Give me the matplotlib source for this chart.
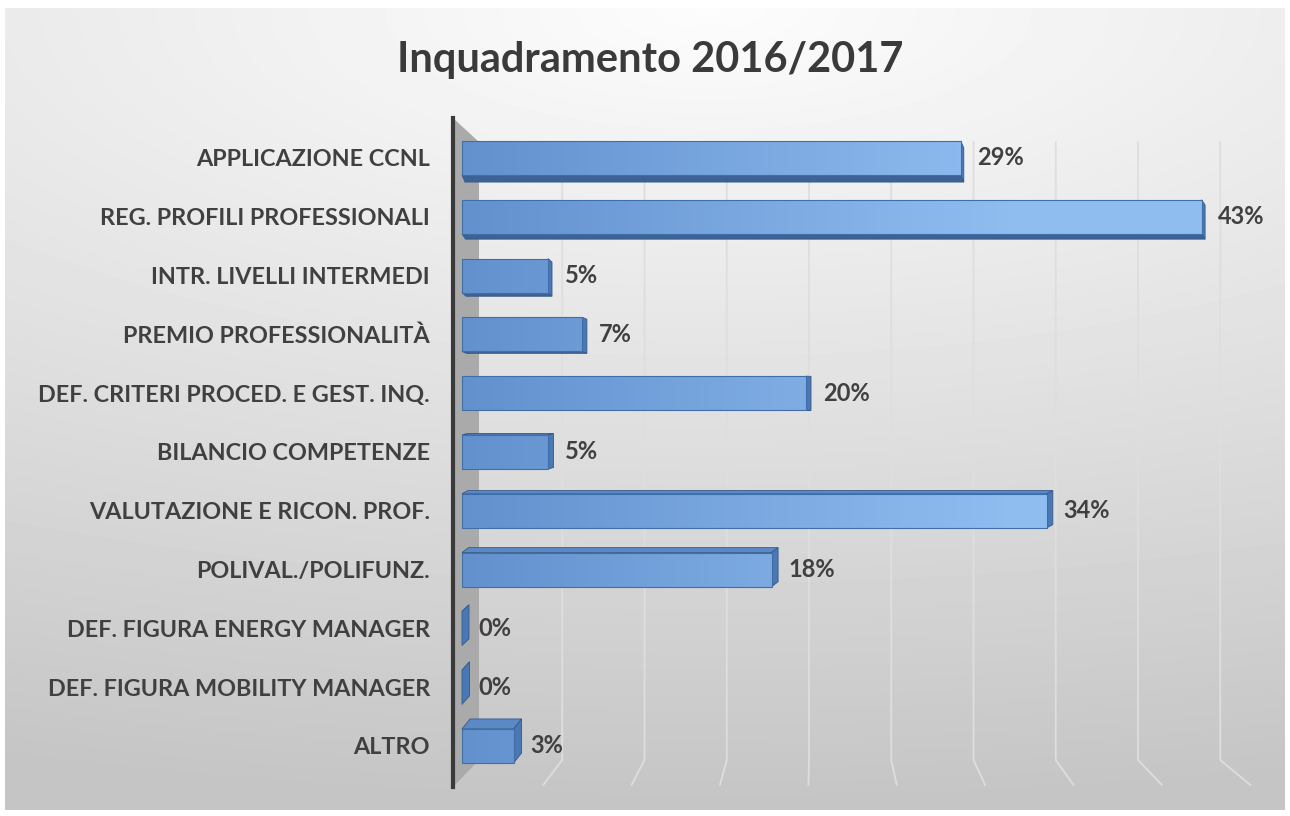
import numpy as np
import matplotlib.pyplot as plt
from matplotlib.colors import LinearSegmentedColormap
from matplotlib.patches import Polygon

plt.rcParams['font.family'] = ['Lato', 'DejaVu Sans']

categorie = ["APPLICAZIONE CCNL", "REG. PROFILI PROFESSIONALI", "INTR. LIVELLI INTERMEDI",
             "PREMIO PROFESSIONALITÀ", "DEF. CRITERI PROCED. E GEST. INQ.", "BILANCIO COMPETENZE",
             "VALUTAZIONE E RICON. PROF.", "POLIVAL./POLIFUNZ.", "DEF. FIGURA ENERGY MANAGER",
             "DEF. FIGURA MOBILITY MANAGER", "ALTRO"]
percentuali = [29, 43, 5, 7, 20, 5, 34, 18, 0, 0, 3]
griglia = [5, 10, 15, 20, 25, 30, 35, 40, 45]
titolo = "Inquadramento 2016/2017"

W, H_FIG = 1290, 816
PX = 17.2       # pixel per punto percentuale (piano frontale)
PX_BACK = 16.45 # pixel per punto percentuale (parete di fondo)
PX_FLOOR = 17.67
ROW = 58.8      # pixel tra una barra e l'altra
H = 0.58        # spessore barra

fig = plt.figure(figsize=(W / 100, H_FIG / 100), dpi=100)
fig.patch.set_facecolor('white')

# sfondo sfumato
bg = fig.add_axes([5 / W, 6 / H_FIG, 1280 / W, 802 / H_FIG])
u, v = np.meshgrid(np.linspace(0, 1, 300), np.linspace(0, 1, 200))
r = np.clip(np.sqrt(0.35 * (u - 0.55) ** 2 + v ** 2), 0, 1)
bg.imshow(0.99 - 0.22 * r, cmap='gray', vmin=0, vmax=1, aspect='auto',
          extent=[0, 1, 0, 1], interpolation='bilinear')
bg.axis('off')

# asse principale (pixel: sx 453, dx 1258, alto 118, basso 787)
ax = fig.add_axes([453 / W, (H_FIG - 787) / H_FIG, (1258 - 453) / W, (787 - 118) / H_FIG])
ax.patch.set_alpha(0)
x_min, x_max = -(462 - 453) / PX, (1258 - 462) / PX
y_top, y_bot = -(158 - 118) / ROW, 10 + (787 - 746) / ROW

# parete sinistra grigia
back_x = (479 - 462) / PX
back_top, back_bot = (142 - 158) / ROW, (760 - 158) / ROW
ax.add_patch(Polygon([(x_min, y_top), (back_x, back_top), (back_x, back_bot), (x_min, y_bot)],
                     closed=True, facecolor='#aaaaaa', edgecolor='none', zorder=1))

# griglia sulla parete di fondo, con il tratto sul pavimento
for g in griglia:
    xb = (480 - 462 + g * PX_BACK) / PX
    xf = (455 - 462 + g * PX_FLOOR) / PX
    ax.plot([xb, xb, xf], [back_top, back_bot, 10.66], color='#dedede', lw=1.3, zorder=1)

ypos = np.arange(len(categorie))
bars = ax.barh(ypos, percentuali, height=H, color='#7aa7df', edgecolor='#3f6ea8',
               linewidth=0.8, zorder=5)

cmap = LinearSegmentedColormap.from_list('blu', ['#6391ce', '#90bdf0'])
for i, (bar, val) in enumerate(zip(bars, percentuali)):
    dxp = 3 + 0.5 * i
    dyp = -7 + 1.7 * i
    ddx, ddy = dxp / PX, -dyp / ROW
    yt, yb = i - H / 2, i + H / 2
    if dyp < 0:
        ax.add_patch(Polygon([(0, yb), (val, yb), (val + ddx, yb + ddy), (ddx, yb + ddy)],
                             facecolor='#3d6396', edgecolor='#34598a', lw=0.6, zorder=3.5))
    else:
        ax.add_patch(Polygon([(0, yt), (val, yt), (val + ddx, yt + ddy), (ddx, yt + ddy)],
                             facecolor='#5b89c6', edgecolor='#34598a', lw=0.6, zorder=3.5))
    ax.add_patch(Polygon([(val, yt), (val, yb), (val + ddx, yb + ddy), (val + ddx, yt + ddy)],
                         facecolor='#4a78b4', edgecolor='#34598a', lw=0.6, zorder=3.6))
    if val > 0:
        im = ax.imshow(np.linspace(0, val, 64).reshape(1, -1), cmap=cmap, vmin=0, vmax=32,
                       extent=[0, val, yb, yt], aspect='auto', zorder=4.5, interpolation='bilinear')
        im.set_clip_path(bar)
    bar.set_facecolor('none')
    ax.annotate(f"{val}%", (val, i), xytext=(12, 0), textcoords='offset points',
                va='center', ha='left', fontsize=17, fontweight='bold', color='#404040',
                zorder=6)

ax.set_xlim(x_min, x_max)
ax.set_ylim(y_bot, y_top)
ax.set_xticks([])
ax.set_yticks(ypos, categorie)
ax.tick_params(axis='y', length=0, pad=16.5)
for lab in ax.get_yticklabels():
    lab.set_fontsize(16.8)
    lab.set_fontweight('bold')
    lab.set_color('#404040')
for s in ['top', 'right', 'bottom']:
    ax.spines[s].set_visible(False)
ax.spines['left'].set_color('#3a3a3a')
ax.spines['left'].set_linewidth(3)
ax.spines['left'].set_zorder(6)

fig.text(650 / W, 1 - 60 / H_FIG, titolo, ha='center', va='center',
         fontsize=30, fontweight='bold', color='#3a3a3a')

fig.savefig('out.png', dpi=100)
